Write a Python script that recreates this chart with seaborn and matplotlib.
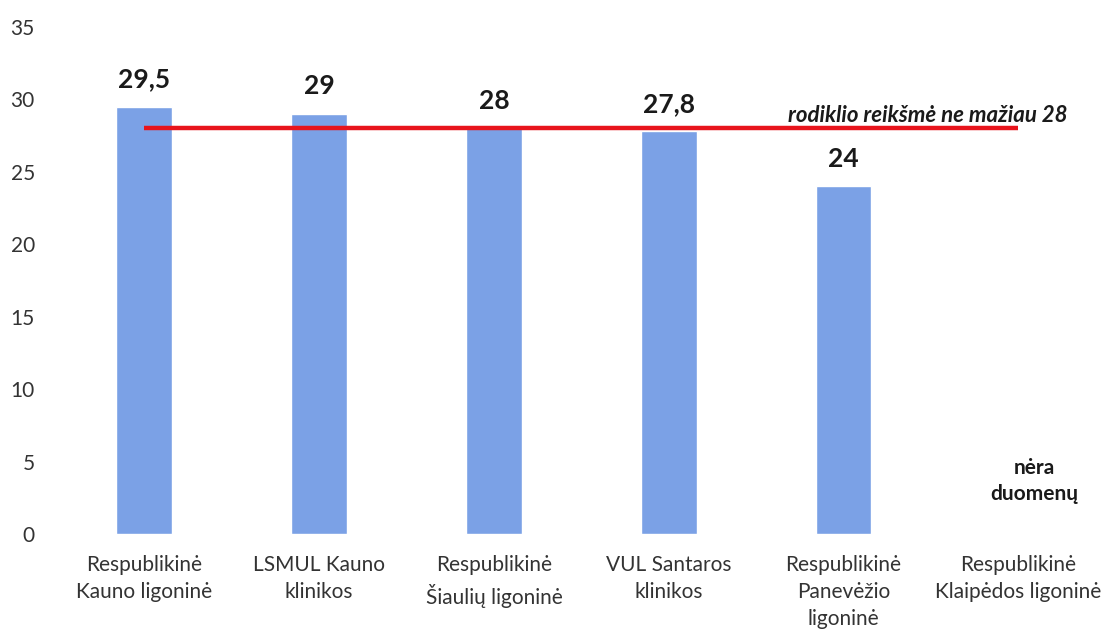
import numpy as np
import pandas as pd
import matplotlib.pyplot as plt
import seaborn as sns

# ligoninės ir rodiklio reikšmės (paskutinė – nėra duomenų)
hospitals = [
    "Respublikinė\nKauno ligoninė",
    "LSMUL Kauno\nklinikos",
    "Respublikinė\nŠiaulių ligoninė",
    "VUL Santaros\nklinikos",
    "Respublikinė\nPanevėžio\nligoninė",
    "Respublikinė\nKlaipėdos ligoninė",
]
values = [29.5, 29, 28, 27.8, 24, np.nan]
target = 28
target_label = "rodiklio reikšmė ne mažiau 28"
no_data_label = "nėra\nduomenų"
yticks = [0, 5, 10, 15, 20, 25, 30, 35]

BAR_BLUE = "#7ba1e6"
LINE_RED = "#e8141c"

sns.set_style("white")
plt.rcParams["font.family"] = ["Lato", "DejaVu Sans"]

df = pd.DataFrame({"hospital": hospitals, "value": values})

fig = plt.figure(figsize=(11.05, 6.33), dpi=100)
ax = fig.add_axes([0.0516, 0.1564, 0.949, 0.8009])

sns.barplot(data=df, x="hospital", y="value", order=hospitals,
            color=BAR_BLUE, saturation=1, width=0.32, ax=ax)

# reikšmės virš stulpelių
for i, v in enumerate(values):
    if np.isnan(v):
        continue
    txt = f"{v:g}".replace(".", ",")
    ax.text(i, v + 1.9, txt, ha="center", va="center",
            fontsize=19, fontweight="bold", color="#1a1a1a")

# tikslinė riba
ax.plot([0, 5], [target, target], color=LINE_RED, linewidth=3.2,
        solid_capstyle="butt", zorder=3)
ax.text(5.28, 28.45, target_label, ha="right", va="baseline",
        fontsize=16, fontweight="bold", fontstyle="italic", color="#1a1a1a")

ax.text(5.09, 3.65, no_data_label, ha="center", va="center",
        fontsize=15, fontweight="bold", color="#1a1a1a", linespacing=1.35)

ax.set_xlim(-0.5, 5.5)
ax.set_ylim(0, 35)
ax.set_yticks(yticks)
ax.set_xlabel("")
ax.set_ylabel("")
ax.tick_params(axis="y", length=0, pad=16, labelsize=15, labelcolor="#333333")
ax.tick_params(axis="x", length=0, pad=15, labelsize=15, labelcolor="#333333")
for lbl in ax.get_xticklabels():
    lbl.set_linespacing(1.45)
sns.despine(ax=ax, left=True, bottom=True)

plt.savefig("out.png", dpi=100)
plt.close()
